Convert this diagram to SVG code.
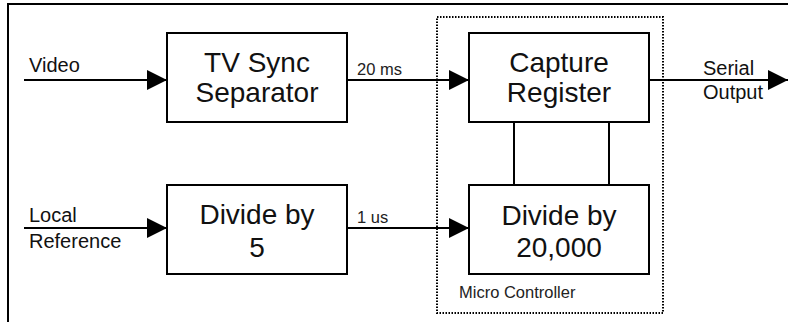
<svg xmlns="http://www.w3.org/2000/svg" width="788" height="322" viewBox="0 0 788 322">
  <style>
    .box { fill: #fff; stroke: #000; stroke-width: 2; }
    .wire { fill: none; stroke: #000; stroke-width: 2; }
    .big { font-family: "Liberation Sans", Arial, sans-serif; font-size: 28px; fill: #111; text-anchor: middle; }
    .lbl { font-family: "Liberation Sans", Arial, sans-serif; font-size: 20px; fill: #111; }
    .small { font-family: "Liberation Sans", Arial, sans-serif; font-size: 16.5px; fill: #222; }
  </style>
  <defs>
    <marker id="arrow" markerUnits="userSpaceOnUse" markerWidth="20" markerHeight="20" refX="20" refY="10" orient="auto">
      <path d="M0,0 L20,10 L0,20 Z" fill="#000"/>
    </marker>
  </defs>
  <rect width="788" height="322" fill="#fff"/>

  <!-- frame -->
  <path class="wire" d="M8,322 V4 H788"/>

  <!-- micro controller boundary -->
  <g id="micro-controller">
    <rect x="437" y="17" width="226" height="296" fill="none" stroke="#000" stroke-width="2" stroke-dasharray="1.5 1.5"/>
    <text class="small" x="459" y="298">Micro Controller</text>
  </g>

  <!-- connectors -->
  <g id="connectors">
    <line class="wire" x1="24" y1="80" x2="167" y2="80" marker-end="url(#arrow)"/>
    <line class="wire" x1="24" y1="228" x2="167" y2="228" marker-end="url(#arrow)"/>
    <line class="wire" x1="347" y1="80" x2="469" y2="80" marker-end="url(#arrow)"/>
    <line class="wire" x1="347" y1="228" x2="469" y2="228" marker-end="url(#arrow)"/>
    <line class="wire" x1="649" y1="80" x2="788" y2="80" marker-end="url(#arrow)"/>
    <line class="wire" x1="514" y1="123" x2="514" y2="185"/>
    <line class="wire" x1="609" y1="123" x2="609" y2="185"/>
    <text class="lbl" x="29" y="72">Video</text>
    <text class="lbl" x="29" y="222">Local</text>
    <text class="lbl" x="29" y="248">Reference</text>
    <text class="small" x="357" y="75">20 ms</text>
    <text class="small" x="357" y="223">1 us</text>
    <text class="lbl" x="703" y="75">Serial</text>
    <text class="lbl" x="703" y="99">Output</text>
  </g>

  <g id="tv-sync-separator">
    <rect class="box" x="167" y="33" width="180" height="89"/>
    <text class="big" x="257" y="72">TV Sync</text>
    <text class="big" x="257" y="102">Separator</text>
  </g>

  <g id="divide-by-5">
    <rect class="box" x="167" y="185" width="180" height="89"/>
    <text class="big" x="257" y="224">Divide by</text>
    <text class="big" x="257" y="257">5</text>
  </g>

  <g id="capture-register">
    <rect class="box" x="469" y="33" width="180" height="89"/>
    <text class="big" x="559" y="72">Capture</text>
    <text class="big" x="559" y="102">Register</text>
  </g>

  <g id="divide-by-20000">
    <rect class="box" x="469" y="185" width="180" height="89"/>
    <text class="big" x="559" y="225">Divide by</text>
    <text class="big" x="559" y="257">20,000</text>
  </g>
</svg>
